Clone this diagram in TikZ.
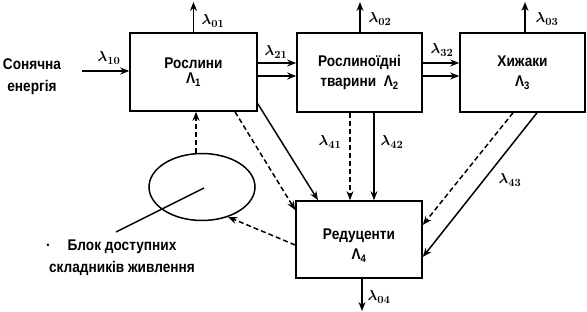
\documentclass[tikz,border=0pt]{standalone}
\usepackage{fontspec}
\setmainfont{Liberation Sans}[FakeStretch=0.88]
\usetikzlibrary{arrows.meta,shapes.geometric}
\begin{document}
\begin{tikzpicture}[x=1pt,y=-1pt,
  box/.style={draw,line width=1.6pt,align=center,font=\fontsize{15.5}{20}\selectfont\bfseries,inner sep=0pt},
  boxtxt/.style={align=center,font=\fontsize{15.5}{20}\selectfont\bfseries,inner sep=0pt},
  arr/.style={line width=1.5pt,-{Stealth[length=9pt,width=7pt]}},
  darr/.style={arr,dash pattern=on 5pt off 3pt},
  lam/.style={font=\fontsize{15}{17}\selectfont\boldmath,inner sep=0pt},
  txt/.style={font=\fontsize{15.5}{22}\selectfont\bfseries,align=center,inner sep=0pt}]
\useasboundingbox (0,0) rectangle (587,312);

% boxes
\node[box,minimum width=127pt,minimum height=78pt] (b1) at (193.5,72) {Рослини\\[-5pt]Λ\textsubscript{1}};
\node[box,minimum width=125pt,minimum height=79pt] (b2) at (359.5,72.5) {Рослиноїдні\\тварини\ \ Λ\textsubscript{2}};
\node[box,minimum width=125pt,minimum height=79pt] (b3) at (522.5,72.5) {Хижаки\\Λ\textsubscript{3}};
\node[box,minimum width=126pt,minimum height=77pt] (b4) at (359,239.5) {};
\node[boxtxt] (t4) at ([yshift=-6pt]b4.center) {Редуценти\\Λ\textsubscript{4}};
\node[draw,ellipse,line width=1.5pt,minimum width=106pt,minimum height=67pt,inner sep=0pt] (e) at (202,187) {};

% texts
\node[txt] (sun) at (32,77) {Сонячна\\енергія};
\node[txt] (blk) at (122,257.5) {Блок доступних\\складників живлення};
\node[txt] (dot) at (48,245) {.};

% coordinates
\coordinate (s0) at (82,71);
\coordinate (p0) at (116,232);
\coordinate (u1) at (193.5,2);
\coordinate (u2) at (360,2);
\coordinate (u3) at (525,2);
\coordinate (d4) at (362,311);

% outgoing up arrows
\draw[arr] (b1.north -| u1) -- (u1);
\draw[arr] (b2.north -| u2) -- (u2);
\draw[arr] (b3.north -| u3) -- (u3);
\draw[arr] (b4.south -| d4) -- (d4);

% solar input
\draw[arr] (s0) -- (s0 -| b1.west);

% horizontal flows
\draw[arr] ([yshift=9pt]b1.east) -- ([yshift=9pt]b1.east -| b2.west);
\draw[arr] ([yshift=-4pt]b1.east) -- ([yshift=-4pt]b1.east -| b2.west);
\draw[arr] ([yshift=9.5pt]b2.east) -- ([yshift=9.5pt]b2.east -| b3.west);
\draw[arr] ([yshift=-3.5pt]b2.east) -- ([yshift=-3.5pt]b2.east -| b3.west);

% nutrients to plants
\coordinate (n1) at ([xshift=2.5pt]b1.south);
\draw[darr] (n1 |- e.north) -- (n1);

% plants to reducers
\draw[darr] ([xshift=41.5pt]b1.south) -- ([yshift=29.5pt]b4.west);
\draw[arr] ([yshift=8pt]b1.south east) -- ([xshift=-41pt]b4.north);

% herbivores to reducers
\coordinate (h1) at ([xshift=-9.5pt]b2.south);
\coordinate (h2) at ([xshift=14.5pt]b2.south);
\draw[darr] (h1) -- (h1 |- b4.north);
\draw[arr] (h2) -- (h2 |- b4.north);

% predators to reducers
\draw[darr] ([xshift=-9.5pt]b3.south) -- ([yshift=14.5pt]b4.east);
\draw[arr] ([xshift=14.5pt]b3.south) -- ([yshift=-17.5pt]b4.east);

% reducers to nutrients
\draw[darr] ([yshift=-5.5pt]b4.west) -- (e.-49);

% pointer line
\draw[line width=1.5pt] ([shift={(2pt,-1pt)}]e.center) -- (p0);

% lambda labels
\node[lam] (l01) at (213,21) {$\lambda_{01}$};
\node[lam] (l02) at (380,19) {$\lambda_{02}$};
\node[lam] (l03) at (547,19) {$\lambda_{03}$};
\node[lam] (l10) at (109,58) {$\lambda_{10}$};
\node[lam] (l21) at (276,52) {$\lambda_{21}$};
\node[lam] (l32) at (442,50) {$\lambda_{32}$};
\node[lam] (l41) at (330,142) {$\lambda_{41}$};
\node[lam] (l42) at (392,142) {$\lambda_{42}$};
\node[lam] (l43) at (510,180) {$\lambda_{43}$};
\node[lam] (l04) at (379,297) {$\lambda_{04}$};
\end{tikzpicture}
\end{document}
